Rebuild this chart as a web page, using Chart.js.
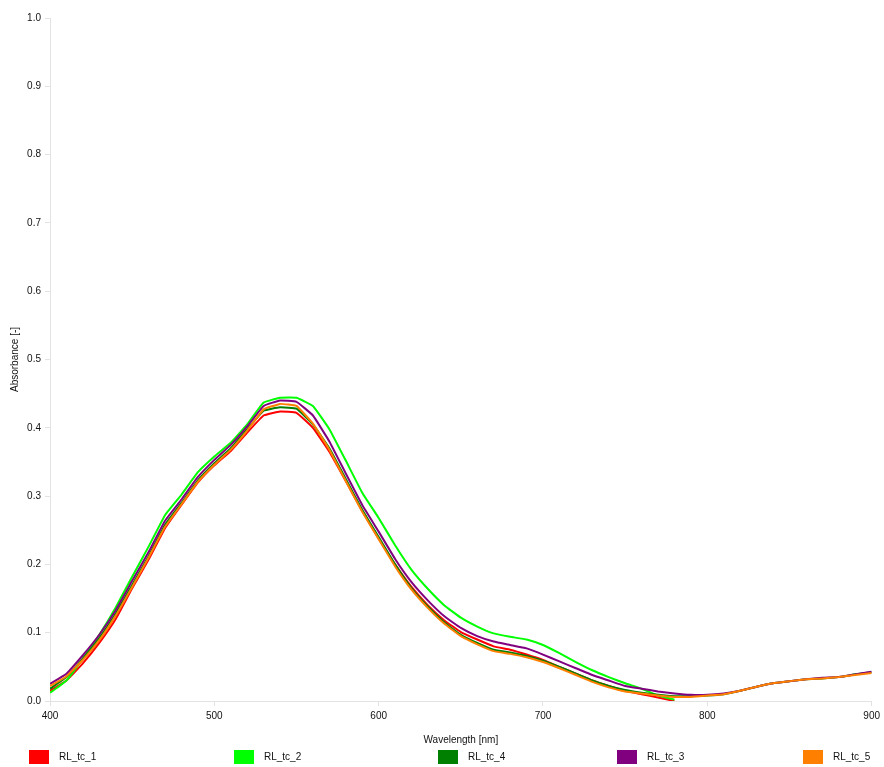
<!DOCTYPE html>
<html>
<head>
<meta charset="utf-8">
<script src="https://cdn.jsdelivr.net/npm/chart.js@4"></script>
<style>
  html, body { margin: 0; padding: 0; background: #fff; }
  #wrap { width: 884px; height: 767px; }
</style>
</head>
<body>
<div id="wrap"><canvas id="specChart" width="884" height="767"></canvas></div>
<script>
// wavelength grid (nm)
let wavelengths = [];
for (let w = 400; w <= 900; w += 10) wavelengths.push(w);

let seriesNames = ['RL_tc_1', 'RL_tc_2', 'RL_tc_4', 'RL_tc_3', 'RL_tc_5'];

// absorbance values (RL_tc_1 and RL_tc_2 stop at 780 nm)
let rl_tc_1 = [0.015,0.03,0.055,0.085,0.12,0.165,0.207,0.253,0.287,0.32,0.345,0.366,0.393,0.418,0.424,0.422,0.4,0.365,0.322,0.278,0.238,0.2,0.167,0.14,0.118,0.101,0.09,0.08,0.075,0.068,0.06,0.05,0.04,0.03,0.022,0.015,0.01,0.005,0.0];
let rl_tc_2 = [0.012,0.03,0.062,0.097,0.137,0.182,0.226,0.272,0.302,0.335,0.358,0.378,0.405,0.437,0.444,0.444,0.432,0.398,0.352,0.305,0.268,0.228,0.192,0.164,0.14,0.122,0.109,0.099,0.094,0.09,0.082,0.07,0.057,0.045,0.035,0.026,0.018,0.008,0.002];
let rl_tc_4 = [0.018,0.035,0.062,0.092,0.128,0.17,0.212,0.258,0.29,0.323,0.348,0.37,0.398,0.425,0.43,0.428,0.405,0.37,0.325,0.28,0.24,0.2,0.165,0.138,0.115,0.097,0.085,0.075,0.071,0.066,0.059,0.05,0.04,0.03,0.022,0.016,0.012,0.009,0.007,0.007,0.008,0.01,0.015,0.021,0.026,0.029,0.032,0.033,0.035,0.039,0.042];
let rl_tc_3 = [0.025,0.04,0.067,0.097,0.133,0.176,0.218,0.264,0.295,0.328,0.353,0.375,0.402,0.432,0.44,0.438,0.418,0.38,0.333,0.287,0.248,0.208,0.174,0.147,0.124,0.107,0.095,0.087,0.082,0.077,0.068,0.058,0.048,0.038,0.03,0.022,0.018,0.014,0.011,0.009,0.009,0.011,0.015,0.021,0.026,0.029,0.032,0.034,0.035,0.039,0.043];
let rl_tc_5 = [0.022,0.036,0.06,0.089,0.125,0.167,0.21,0.255,0.288,0.321,0.346,0.368,0.396,0.427,0.435,0.432,0.406,0.368,0.322,0.277,0.237,0.197,0.163,0.136,0.113,0.095,0.083,0.073,0.069,0.064,0.057,0.048,0.038,0.028,0.02,0.014,0.011,0.008,0.006,0.006,0.008,0.01,0.015,0.021,0.026,0.029,0.032,0.033,0.035,0.038,0.041];

let seriesValues = [rl_tc_1, rl_tc_2, rl_tc_4, rl_tc_3, rl_tc_5];
let seriesColors = ['#ff0000', '#00ff00', '#008000', '#800080', '#ff8000'];
// later series are painted over earlier ones
let drawOrder = [5, 4, 3, 2, 1];

let yTicks = [0, 0.1, 0.2, 0.3, 0.4, 0.5, 0.6, 0.7, 0.8, 0.9, 1.0];
let xTicks = [400, 500, 600, 700, 800, 900];

Chart.defaults.font.family = '"Liberation Sans", Arial, sans-serif';
Chart.defaults.font.size = 10;
Chart.defaults.color = '#111';

let axisColor = '#e2e2e2';

// legend entries sit in wide, fixed slots along the bottom edge
let legendSlots = [29, 234, 438, 617, 803];

const spreadLegend = {
    id: 'spreadLegend',
    afterDraw(chart) {
        let ctx = chart.ctx;
        ctx.save();
        ctx.font = '10px "Liberation Sans", Arial, sans-serif';
        ctx.textBaseline = 'middle';
        chart.data.datasets.forEach((ds, i) => {
            let x = legendSlots[i];
            let y = 750;
            ctx.fillStyle = ds.borderColor;
            ctx.fillRect(x, y, 20, 14);
            ctx.fillStyle = '#111';
            ctx.fillText(ds.label, x + 30, y + 7);
        });
        ctx.restore();
    }
};

function toPoints(vals) {
    return vals.map((v, i) => ({ x: wavelengths[i], y: v }));
}

let specChart = new Chart(document.getElementById('specChart').getContext('2d'), {
    type: 'line',
    data: {
        datasets: seriesNames.map((name, i) => ({
            label: name,
            data: toPoints(seriesValues[i]),
            borderColor: seriesColors[i],
            backgroundColor: seriesColors[i],
            borderWidth: 2,
            pointRadius: 0,
            tension: 0.1,
            order: drawOrder[i],
            fill: false
        }))
    },
    options: {
        responsive: false,
        animation: false,
        layout: { padding: { top: 18, right: 0, left: 0, bottom: 21 } },
        plugins: {
            tooltip: { enabled: false },
            legend: { display: false }
        },
        scales: {
            x: {
                type: 'linear',
                min: 400,
                max: 900,
                afterBuildTicks: s => { s.ticks = xTicks.map(v => ({ value: v })); },
                afterFit: s => { s.height = 45; },
                ticks: { padding: 4, maxRotation: 0 },
                grid: { drawOnChartArea: false, drawTicks: true, tickLength: 5, color: axisColor },
                border: { color: axisColor },
                title: { display: true, text: 'Wavelength [nm]', padding: { top: 2, bottom: 0 }, font: { size: 10 } }
            },
            y: {
                min: 0,
                max: 1,
                afterBuildTicks: s => { s.ticks = yTicks.map(v => ({ value: v })); },
                afterFit: s => { s.width = 50; },
                ticks: { padding: 4, callback: v => Number(v).toFixed(1) },
                grid: { drawOnChartArea: false, drawTicks: true, tickLength: 5, color: axisColor },
                border: { color: axisColor },
                title: { display: true, text: 'Absorbance [-]', padding: { top: 9, bottom: 2 }, font: { size: 10 } }
            }
        }
    },
    plugins: [spreadLegend]
});
</script>
</body>
</html>
